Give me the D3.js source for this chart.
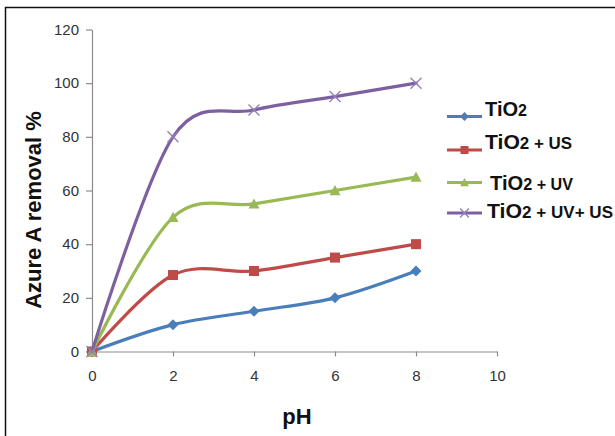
<!DOCTYPE html>
<html>
<head>
<meta charset="utf-8">
<script src="https://cdn.jsdelivr.net/npm/d3@7/dist/d3.min.js"></script>
<style>
  html, body { margin: 0; padding: 0; background: #fff; }
  svg { display: block; }
</style>
</head>
<body>
<svg id="chart" width="615" height="436"></svg>
<script>
// ---- data ----
const phValues = [0, 2, 4, 6, 8];
const tio2 = [0, 10, 15, 20, 30];
const tio2US = [0, 28.5, 30, 35, 40];
const tio2UV = [0, 50, 55, 60, 65];
const tio2UVUS = [0, 80, 90, 95, 100];
const seriesNames = ["TiO2", "TiO2 + US", "TiO2 + UV", "TiO2 + UV+ US"];
const seriesValues = [tio2, tio2US, tio2UV, tio2UVUS];
const xTickValues = [0, 2, 4, 6, 8, 10];
const yTickValues = [0, 20, 40, 60, 80, 100, 120];
const xTitle = "pH";
const yTitle = "Azure A removal %";

// ---- styles ----
const colors = ["#4A7EBB", "#BE4B48", "#98B954", "#7D60A0"];
const markers = ["diamond", "square", "triangle", "cross"];

const svg = d3.select("#chart");

// outer frame (right & bottom edges fall outside the picture)
svg.append("rect")
  .attr("x", 5.5).attr("y", 7.5).attr("width", 640).attr("height", 460)
  .attr("fill", "none").attr("stroke", "#111").attr("stroke-width", 1.5);

const x = d3.scaleLinear().domain([0, 10]).range([92, 497]);
const y = d3.scaleLinear().domain([0, 120]).range([351.5, 29.5]);

const axisColor = "#8c8c8c";
const tickFont = "'Liberation Sans', Arial, sans-serif";

// y axis
const gy = svg.append("g").attr("transform", `translate(${x(0)},0)`)
  .call(d3.axisLeft(y).tickValues(yTickValues).tickSize(6).tickPadding(7).tickSizeOuter(0));
// x axis
const gx = svg.append("g").attr("transform", `translate(0,${y(0)})`)
  .call(d3.axisBottom(x).tickValues(xTickValues).tickSize(5).tickPadding(14).tickSizeOuter(0));

[gx, gy].forEach(g => {
  g.select(".domain").attr("stroke", axisColor).attr("stroke-width", 1.2);
  g.selectAll(".tick line").attr("stroke", axisColor).attr("stroke-width", 1.2);
  g.selectAll(".tick text").attr("fill", "#333")
    .style("font-family", tickFont).style("font-size", "15px");
});

// axis titles
svg.append("text")
  .attr("transform", `translate(41,210) rotate(-90)`)
  .attr("text-anchor", "middle")
  .style("font-family", "'Liberation Sans', Arial, sans-serif")
  .style("font-weight", "bold").style("font-size", "22px")
  .attr("fill", "#111")
  .text(yTitle);

svg.append("text")
  .attr("x", 297).attr("y", 424)
  .attr("text-anchor", "middle")
  .style("font-family", "'Liberation Sans', Arial, sans-serif")
  .style("font-weight", "bold").style("font-size", "22px")
  .attr("fill", "#111")
  .text(xTitle);

// marker drawing
function drawMarker(g, type, cx, cy, color, scale) {
  const s = scale || 1;
  if (type === "diamond") {
    const r = 5.5 * s;
    g.append("path").attr("d", `M${cx},${cy - r}L${cx + r},${cy}L${cx},${cy + r}L${cx - r},${cy}Z`)
      .attr("fill", color);
  } else if (type === "square") {
    const h = 5 * s;
    g.append("rect").attr("x", cx - h).attr("y", cy - h).attr("width", 2 * h).attr("height", 2 * h)
      .attr("fill", color);
  } else if (type === "triangle") {
    const h = 5.5 * s;
    g.append("path").attr("d", `M${cx},${cy - h}L${cx + h},${cy + h * 0.85}L${cx - h},${cy + h * 0.85}Z`)
      .attr("fill", color);
  } else if (type === "cross") {
    const h = 5.5 * s;
    g.append("path").attr("d", `M${cx - h},${cy - h}L${cx + h},${cy + h}M${cx - h},${cy + h}L${cx + h},${cy - h}`)
      .attr("stroke", "#9480B8").attr("stroke-width", 1.4).attr("fill", "none");
  }
}

const line = d3.line()
  .x(d => x(d[0])).y(d => y(d[1]))
  .curve(d3.curveCatmullRom.alpha(0));

seriesValues.forEach((vals, i) => {
  const g = svg.append("g");
  const pts = phValues.map((p, j) => [p, vals[j]]);
  g.append("path").datum(pts).attr("d", line)
    .attr("fill", "none").attr("stroke", colors[i]).attr("stroke-width", 3.2)
    .attr("stroke-linejoin", "round").attr("stroke-linecap", "round");
  pts.forEach(p => drawMarker(g, markers[i], x(p[0]), y(p[1]), colors[i], 1));
});

// legend
const legendRows = [
  { lineY: 116.5, textY: 116, textX: 485, len: 42 },
  { lineY: 150, textY: 149, textX: 485, len: 87 },
  { lineY: 182.5, textY: 190, textX: 490, len: 83 },
  { lineY: 213, textY: 218, textX: 487, len: 126 }
];
const legendFont = "'Liberation Sans', Arial, sans-serif";
seriesNames.forEach((name, i) => {
  const r = legendRows[i];
  const g = svg.append("g");
  g.append("line").attr("x1", 447).attr("x2", 482).attr("y1", r.lineY).attr("y2", r.lineY)
    .attr("stroke", colors[i]).attr("stroke-width", 3);
  drawMarker(g, markers[i], 464.5, r.lineY, colors[i], 0.8);
  const rest = name.slice(4); // after "TiO2"
  const t = g.append("text").attr("x", r.textX).attr("y", r.textY)
    .style("font-family", legendFont).style("font-weight", "bold")
    .attr("fill", "#111")
    .attr("textLength", r.len).attr("lengthAdjust", "spacingAndGlyphs");
  t.append("tspan").style("font-size", "20px").text("TiO");
  t.append("tspan").style("font-size", "16px").text("2");
  if (rest.length) t.append("tspan").style("font-size", "16px").text(rest);
});
</script>
</body>
</html>
